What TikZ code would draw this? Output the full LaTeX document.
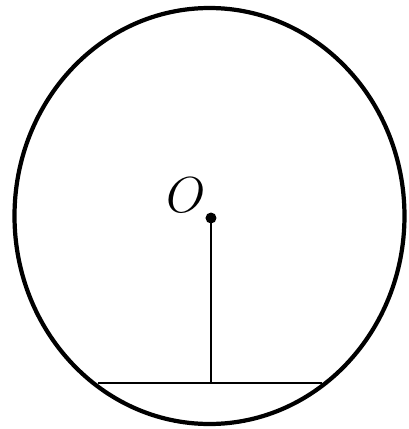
\documentclass[tikz,border=0pt]{standalone}
\usepackage{amsmath,amssymb}
\usepackage{tikz}
\usetikzlibrary{calc,positioning}

\begin{document}
\begin{tikzpicture}[rim/.style={line width=1.2pt},
     seg/.style={line width=0.8pt},
     lbl/.style={font=\Large, inner sep=0pt}]
\useasboundingbox (0,0) rectangle (4.09,4.29);
\def\rx{1.95}\def\ry{2.08}
\coordinate (c) at (2.095,2.13);
\draw[rim] (c) ellipse [x radius=\rx, y radius=\ry];
\coordinate (O) at (2.11,2.11);
\coordinate (foot) at (2.11,0.46);
\coordinate (A) at (0.98,0.46);
\coordinate (B) at (3.22,0.46);
\draw[seg] (A) -- (B);
\draw[seg] (O) -- (foot);
\fill (O) circle (0.055);
\node[lbl] (lo) at (1.86,2.34) {$O$};
\end{tikzpicture}
\end{document}
